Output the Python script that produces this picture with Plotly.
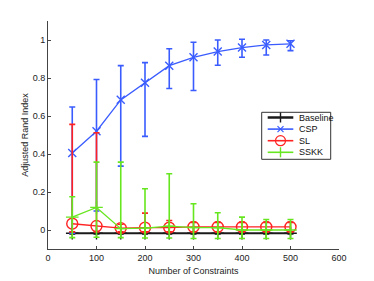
import plotly.graph_objects as go

x = [50, 100, 150, 200, 250, 300, 350, 400, 450, 500]

baseline = [-0.017] * 10
baseline_up = [0.004] * 10
baseline_dn = [0.004] * 10

csp = [0.405, 0.52, 0.685, 0.775, 0.865, 0.909, 0.939, 0.960, 0.974, 0.980]
csp_top = [0.647, 0.792, 0.865, 0.881, 0.954, 0.988, 1.000, 1.004, 1.000, 0.996]
csp_bot = [-0.017, 0.10, 0.336, 0.493, 0.745, 0.734, 0.867, 0.909, 0.921, 0.944]

sl = [0.033, 0.021, 0.010, 0.012, 0.012, 0.016, 0.016, 0.016, 0.016, 0.016]
sl_top = [0.556, 0.512, 0.030, 0.089, 0.050, 0.040, 0.040, 0.040, 0.040, 0.040]
sl_bot = [-0.010, -0.010, -0.010, -0.010, -0.010, -0.010, -0.010, -0.010, -0.010, -0.010]

sskk = [0.068, 0.119, 0.007, 0.010, 0.020, 0.013, 0.012, 0.000, 0.000, 0.000]
sskk_top = [0.175, 0.357, 0.357, 0.217, 0.296, 0.138, 0.091, 0.068, 0.055, 0.055]
sskk_bot = [-0.040, -0.038, -0.040, -0.042, -0.042, -0.045, -0.045, -0.045, -0.045, -0.045]

series_names = ["Baseline", "CSP", "SL", "SSKK"]
x_ticks = [0, 100, 200, 300, 400, 500, 600]
y_ticks = [0, 0.2, 0.4, 0.6, 0.8, 1]

FONT = "Liberation Sans, Arial"
W, H = 374, 281
ML, MR, MT, MB = 40, 43, 13, 40
PW, PH = W - ML - MR, H - MT - MB


def err(vals, top, bot, color):
    return dict(type="data", symmetric=False,
                array=[t - v for v, t in zip(vals, top)],
                arrayminus=[v - b for v, b in zip(vals, bot)],
                color=color, thickness=1.6, width=3)


styles = {
    "Baseline": ("#1a1a1a", "cross-thin-open", 9, 2.2),
    "CSP": ("#3a5cff", "x-thin-open", 8, 1.3),
    "SL": ("#ff2222", "circle-open", 11, 1.3),
    "SSKK": ("#66e61e", "cross-thin-open", 9, 1.3),
}
data = {
    "Baseline": (baseline, [b + u for b, u in zip(baseline, baseline_up)],
                 [b - d for b, d in zip(baseline, baseline_dn)]),
    "CSP": (csp, csp_top, csp_bot),
    "SL": (sl, sl_top, sl_bot),
    "SSKK": (sskk, sskk_top, sskk_bot),
}

fig = go.Figure()
for name in series_names:
    vals, top, bot = data[name]
    color, sym, size, lw = styles[name]
    fig.add_trace(go.Scatter(
        x=x, y=vals, name=name, mode="lines+markers", showlegend=False,
        line=dict(color=color, width=lw),
        marker=dict(symbol=sym, size=size, color=color,
                    line=dict(color=color, width=1.4)),
        error_y=err(vals, top, bot, color),
    ))

axis_common = dict(
    showline=True, linecolor="#444", linewidth=1, mirror=False, automargin=False,
    ticks="inside", ticklen=3, tickcolor="#444", showgrid=False, zeroline=False,
    tickfont=dict(size=9, color="#222", family=FONT),
)
fig.update_xaxes(range=[0, 600], tickvals=x_ticks,
                 title=dict(text="Number of Constraints", standoff=5,
                            font=dict(size=9, color="#222", family=FONT)),
                 **axis_common)
fig.update_yaxes(range=[-0.1, 1.1], tickvals=y_ticks,
                 ticktext=["0", "0.2", "0.4", "0.6", "0.8", "1"],
                 title=dict(text="Adjusted Rand Index", standoff=2,
                            font=dict(size=9, color="#222", family=FONT)),
                 **axis_common)

# ---- compact legend drawn as layout decoration (paper coordinates) ----
def px(xp):  # paper x from plot-relative pixels
    return xp / PW


def py(yp):  # paper y from plot-relative pixels (downwards from top)
    return 1 - yp / PH


box_l, box_r, box_t, box_b = 213.7, 282.7, 91.3, 138.3
shapes = [dict(type="rect", xref="paper", yref="paper",
               x0=px(box_l), x1=px(box_r), y0=py(box_b), y1=py(box_t),
               line=dict(color="#333", width=1), fillcolor="white", layer="above")]
annotations = []
row_y0, row_dy = 96.5, 11.6
ln_l, ln_r, mk_x, tx_x = 219.7, 245.3, 232.5, 248.5
for i, name in enumerate(series_names):
    color, sym, size, lw = styles[name]
    yy = row_y0 + i * row_dy
    shapes.append(dict(type="line", xref="paper", yref="paper",
                       x0=px(ln_l), x1=px(ln_r), y0=py(yy), y1=py(yy),
                       line=dict(color=color, width=lw + 0.3), layer="above"))
    r = 4
    if sym.startswith("cross"):
        shapes.append(dict(type="line", xref="paper", yref="paper",
                           x0=px(mk_x), x1=px(mk_x), y0=py(yy - r - 1), y1=py(yy + r + 1),
                           line=dict(color=color, width=1.4), layer="above"))
    elif sym.startswith("x"):
        for s in (1, -1):
            shapes.append(dict(type="line", xref="paper", yref="paper",
                               x0=px(mk_x - 3), x1=px(mk_x + 3),
                               y0=py(yy - 3 * s), y1=py(yy + 3 * s),
                               line=dict(color=color, width=1.2), layer="above"))
    else:
        shapes.append(dict(type="circle", xref="paper", yref="paper",
                           x0=px(mk_x - 5), x1=px(mk_x + 5),
                           y0=py(yy + 5), y1=py(yy - 5),
                           line=dict(color=color, width=1.2), fillcolor="rgba(0,0,0,0)",
                           layer="above"))
    annotations.append(dict(text=name, xref="paper", yref="paper",
                            x=px(tx_x), y=py(yy), xanchor="left", yanchor="middle",
                            showarrow=False,
                            font=dict(size=9, color="#111", family=FONT)))

fig.update_layout(
    width=W, height=H,
    margin=dict(l=ML, r=MR, t=MT, b=MB, autoexpand=False),
    paper_bgcolor="white", plot_bgcolor="white",
    showlegend=False,
    shapes=shapes, annotations=annotations,
)

fig.write_html("out.html")
